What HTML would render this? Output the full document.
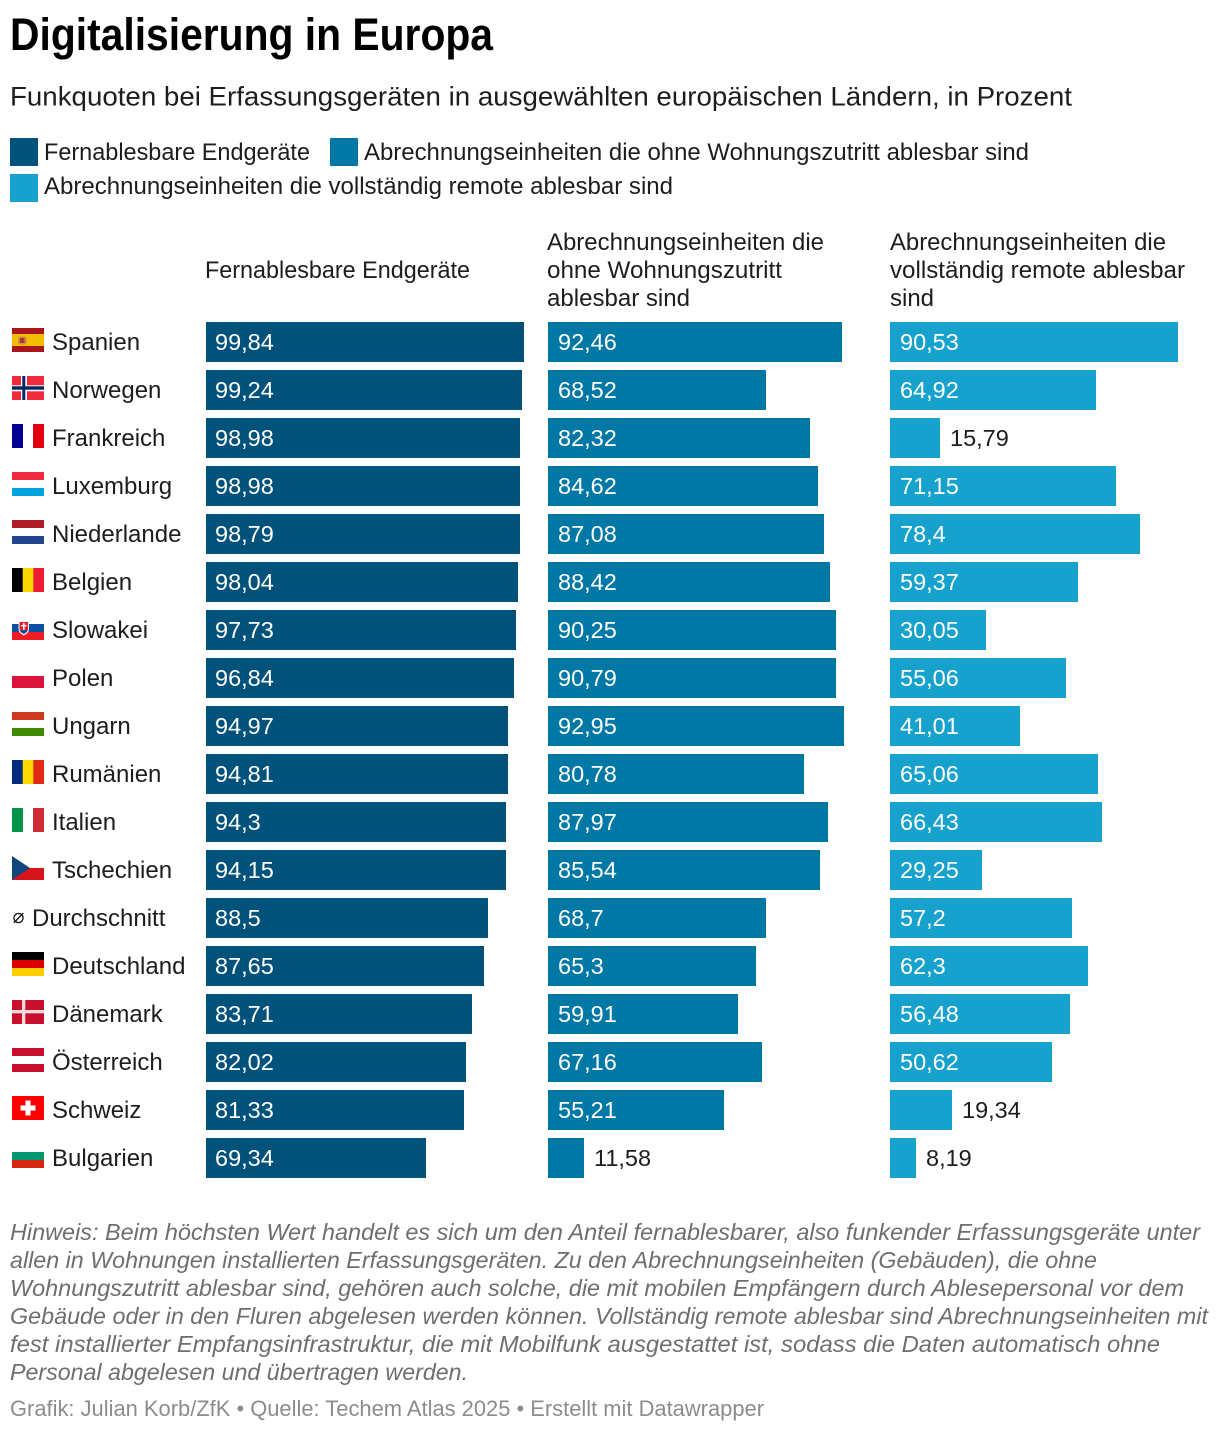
<!DOCTYPE html>
<html lang="de">
<head>
<meta charset="utf-8">
<title>Digitalisierung in Europa</title>
<style>
html,body{margin:0;padding:0;background:#fff;width:1220px;height:1434px;overflow:hidden}
svg{display:block}
text{font-family:"Liberation Sans",Arial,sans-serif;fill:#1d1d1d;font-size:24px}
.note{font-style:italic;fill:#6e6e6e;font-size:23.5px}
.foot{fill:#8c8c8c;font-size:22px}
</style>
</head>
<body>
<svg id="chart" xmlns="http://www.w3.org/2000/svg" width="1220" height="1434" viewBox="0 0 1220 1434">
  <text x="10" y="50" font-weight="700" style="font-size:45.5px;fill:#000;font-weight:700" textLength="483" lengthAdjust="spacingAndGlyphs">Digitalisierung in Europa</text>
  <text x="10" y="105.5" style="font-size:27px" textLength="1062" lengthAdjust="spacingAndGlyphs">Funkquoten bei Erfassungsgeräten in ausgewählten europäischen Ländern, in Prozent</text>

  <g>
    <rect x="10" y="138" width="28" height="28" fill="#00527a"/>
    <text x="44" y="160" textLength="266" lengthAdjust="spacingAndGlyphs">Fernablesbare Endgeräte</text>
    <rect x="330" y="138" width="28" height="28" fill="#0078a6"/>
    <text x="364" y="160" textLength="665" lengthAdjust="spacingAndGlyphs">Abrechnungseinheiten die ohne Wohnungszutritt ablesbar sind</text>
    <rect x="10" y="174" width="28" height="28" fill="#17a2ce"/>
    <text x="44" y="194" textLength="629" lengthAdjust="spacingAndGlyphs">Abrechnungseinheiten die vollständig remote ablesbar sind</text>
  </g>

  <g>
    <text x="205" y="278" textLength="265" lengthAdjust="spacingAndGlyphs">Fernablesbare Endgeräte</text>
    <g>
      <text x="547" y="250" textLength="277" lengthAdjust="spacingAndGlyphs">Abrechnungseinheiten die</text>
      <text x="547" y="278" textLength="235" lengthAdjust="spacingAndGlyphs">ohne Wohnungszutritt</text>
      <text x="547" y="306" textLength="143" lengthAdjust="spacingAndGlyphs">ablesbar sind</text>
    </g>
    <g>
      <text x="890" y="250" textLength="276" lengthAdjust="spacingAndGlyphs">Abrechnungseinheiten die</text>
      <text x="890" y="278" textLength="295" lengthAdjust="spacingAndGlyphs">vollständig remote ablesbar</text>
      <text x="890" y="306" textLength="44" lengthAdjust="spacingAndGlyphs">sind</text>
    </g>
  </g>

  <g id="flags">
    <g transform="translate(12,328)">
      <rect width="32" height="24" fill="#aa151b"/><rect y="6" width="32" height="12" fill="#f1bf00"/>
      <rect x="6" y="8.5" width="8.5" height="8" rx="2" fill="#d08a4a"/><rect x="8" y="10" width="4.5" height="5" fill="#ad3a20"/>
    </g>
    <g transform="translate(12,376)">
      <rect width="32" height="24" fill="#ef2b3d"/><rect x="9" width="6" height="24" fill="#fff"/><rect y="9.3" width="32" height="6" fill="#fff"/>
      <rect x="10.3" width="3" height="24" fill="#002664"/><rect y="10.3" width="32" height="3.4" fill="#002664"/>
    </g>
    <g transform="translate(12,424)">
      <rect width="11" height="24" fill="#000091"/><rect x="21" width="11" height="24" fill="#e1000f"/>
    </g>
    <g transform="translate(12,472)">
      <rect width="32" height="8" fill="#ef2b3d"/><rect y="16" width="32" height="8" fill="#00a3e0"/>
    </g>
    <g transform="translate(12,520)">
      <rect width="32" height="8" fill="#ae1c28"/><rect y="16" width="32" height="8" fill="#21468b"/>
    </g>
    <g transform="translate(12,568)">
      <rect width="11" height="24" fill="#000"/><rect x="10.7" width="10.7" height="24" fill="#fdd800"/><rect x="21.3" width="10.7" height="24" fill="#ef1b35"/>
    </g>
    <g transform="translate(12,616)">
      <rect y="8" width="32" height="8" fill="#0b4ea2"/><rect y="16" width="32" height="8" fill="#ee1c25"/>
      <path d="M6.5 6H17V13Q17 17 11.8 19.5Q6.5 17 6.5 13Z" fill="#fff"/>
      <path d="M7.5 6H16V13Q16 16 11.8 18Q7.5 16 7.5 13Z" fill="#ee1c25"/>
      <rect x="11" y="7" width="1.6" height="7" fill="#fff"/><rect x="9" y="9" width="5.6" height="1.4" fill="#fff"/>
      <path d="M8 14H15.5Q15 16 11.8 18Q8.5 16 8 14Z" fill="#0b4ea2"/>
    </g>
    <g transform="translate(12,664)">
      <rect y="12" width="32" height="12" fill="#dc143c"/>
    </g>
    <g transform="translate(12,712)">
      <rect width="32" height="8" fill="#cd3a1f"/><rect y="16" width="32" height="8" fill="#3d8c00"/>
    </g>
    <g transform="translate(12,760)">
      <rect width="11" height="24" fill="#002b7f"/><rect x="10.7" width="10.7" height="24" fill="#fcd900"/><rect x="21.3" width="10.7" height="24" fill="#e12a14"/>
    </g>
    <g transform="translate(12,808)">
      <rect width="11" height="24" fill="#009246"/><rect x="21" width="11" height="24" fill="#ce2b37"/>
    </g>
    <g transform="translate(12,856)">
      <rect y="12" width="32" height="12" fill="#d7141a"/><path d="M0 0L18 12L0 24Z" fill="#11457e"/>
    </g>
    <g transform="translate(12,952)">
      <rect width="32" height="8" fill="#000"/><rect y="8" width="32" height="8" fill="#dd0000"/><rect y="16" width="32" height="8" fill="#ffce00"/>
    </g>
    <g transform="translate(12,1000)">
      <rect width="32" height="24" fill="#c8102e"/><rect x="10" width="3.3" height="24" fill="#f4dcdc"/><rect y="10" width="32" height="3.3" fill="#f4dcdc"/>
    </g>
    <g transform="translate(12,1048)">
      <rect width="32" height="8" fill="#c8102e"/><rect y="16" width="32" height="8" fill="#c8102e"/>
    </g>
    <g transform="translate(12,1096)">
      <rect width="32" height="24" fill="#ff0000"/><rect x="8.5" y="9.5" width="15" height="5" fill="#fff"/><rect x="13.5" y="4.5" width="5" height="15" fill="#fff"/>
    </g>
    <g transform="translate(12,1144)">
      <rect y="8" width="32" height="8" fill="#00966e"/><rect y="16" width="32" height="8" fill="#d62612"/>
    </g>
  </g>
  <text x="12.5" y="923" style="font-family:'DejaVu Sans',sans-serif;font-size:20px">⌀</text>

  <g id="rows"></g>

  <g>
    <text class="note" x="10" y="1240" textLength="1190" lengthAdjust="spacingAndGlyphs">Hinweis: Beim höchsten Wert handelt es sich um den Anteil fernablesbarer, also funkender Erfassungsgeräte unter</text>
    <text class="note" x="10" y="1268" textLength="1087" lengthAdjust="spacingAndGlyphs">allen in Wohnungen installierten Erfassungsgeräten. Zu den Abrechnungseinheiten (Gebäuden), die ohne</text>
    <text class="note" x="10" y="1296" textLength="1174" lengthAdjust="spacingAndGlyphs">Wohnungszutritt ablesbar sind, gehören auch solche, die mit mobilen Empfängern durch Ablesepersonal vor dem</text>
    <text class="note" x="10" y="1324" textLength="1198" lengthAdjust="spacingAndGlyphs">Gebäude oder in den Fluren abgelesen werden können. Vollständig remote ablesbar sind Abrechnungseinheiten mit</text>
    <text class="note" x="10" y="1352" textLength="1150" lengthAdjust="spacingAndGlyphs">fest installierter Empfangsinfrastruktur, die mit Mobilfunk ausgestattet ist, sodass die Daten automatisch ohne</text>
    <text class="note" x="10" y="1380" textLength="458" lengthAdjust="spacingAndGlyphs">Personal abgelesen und übertragen werden.</text>
  </g>
  <text class="foot" x="10" y="1416" textLength="754" lengthAdjust="spacingAndGlyphs">Grafik: Julian Korb/ZfK • Quelle: Techem Atlas 2025 • Erstellt mit Datawrapper</text>
</svg>

<script>
const categories = ["Spanien","Norwegen","Frankreich","Luxemburg","Niederlande","Belgien","Slowakei","Polen","Ungarn","Rumänien","Italien","Tschechien","Durchschnitt","Deutschland","Dänemark","Österreich","Schweiz","Bulgarien"];
const endgeraete = [99.84,99.24,98.98,98.98,98.79,98.04,97.73,96.84,94.97,94.81,94.3,94.15,88.5,87.65,83.71,82.02,81.33,69.34];
const ohneZutritt = [92.46,68.52,82.32,84.62,87.08,88.42,90.25,90.79,92.95,80.78,87.97,85.54,68.7,65.3,59.91,67.16,55.21,11.58];
const remote = [90.53,64.92,15.79,71.15,78.4,59.37,30.05,55.06,41.01,65.06,66.43,29.25,57.2,62.3,56.48,50.62,19.34,8.19];

const NS = 'http://www.w3.org/2000/svg';
const rows = document.getElementById('rows');
const columns = [
  { values: endgeraete, left: 206, snap: -0.1, color: '#00527a' },
  { values: ohneZutritt, left: 548, snap: -0.15, color: '#0078a6' },
  { values: remote, left: 890, snap: -0.07, color: '#17a2ce' }
];

function xWidth(v, snap) { return Math.round(v * 1.592 + snap) * 2; }
function rowTop(i) { return 322 + 48 * i; }
function formatValue(v) { return String(v).replace('.', ','); }

categories.forEach(function (name, i) {
  const label = document.createElementNS(NS, 'text');
  
  
  label.setAttribute('x', name === 'Durchschnitt' ? 32 : 52);
  label.setAttribute('y', rowTop(i) + 28);
  label.textContent = name;
  rows.appendChild(label);

  columns.forEach(function (col) {
    const v = col.values[i];
    const w = xWidth(v, col.snap);
    const bar = document.createElementNS(NS, 'rect');
    
    
    bar.setAttribute('x', col.left);
    bar.setAttribute('y', rowTop(i));
    bar.setAttribute('width', w);
    bar.setAttribute('height', 40);
    bar.setAttribute('fill', col.color);
    rows.appendChild(bar);

    const val = document.createElementNS(NS, 'text');
    
    
    const inside = w >= 70;
    val.setAttribute('x', inside ? col.left + (col.left === 206 ? 9 : 10) : col.left + w + 10);
    val.setAttribute('y', rowTop(i) + 28);
    val.setAttribute('style', 'font-size:23.5px;fill:' + (inside ? '#ffffff' : '#1d1d1d'));
    val.textContent = formatValue(v);
    rows.appendChild(val);
  });
});
</script>
</body>
</html>
